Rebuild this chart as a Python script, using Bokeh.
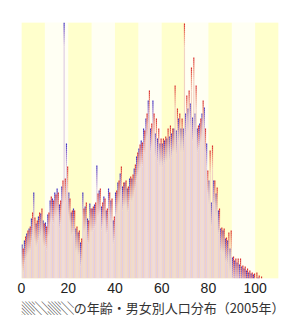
import numpy as np
from bokeh.plotting import figure
from bokeh.models import ColumnDataSource, FixedTicker, Title
from bokeh.embed import file_html
from bokeh.resources import INLINE

# ---- data (age 0..104, bar heights, arbitrary units) ----
ages = list(range(0, 105))
male = [34, 38, 45, 50, 60, 86, 55, 62, 65, 58,
        56, 64, 78, 80, 86, 90, 74, 92, 256, 135,
        86, 66, 70, 50, 46, 36, 86, 72, 60, 75,
        70, 74, 113, 88, 72, 82, 68, 90, 78, 58,
        86, 96, 105, 92, 96, 90, 100, 100, 110, 122,
        130, 138, 150, 160, 178, 150, 178, 145, 140, 135,
        135, 138, 140, 142, 145, 150, 148, 160, 150, 150,
        165, 170, 175, 161, 165, 150, 155, 165, 171, 135,
        98, 76, 98, 85, 68, 50, 48, 40, 38, 30,
        21, 18, 16, 14, 12, 10, 8, 6, 5, 4,
        0, 1, 0, 0, 0]
female = [30, 42, 48, 52, 66, 61, 58, 66, 70, 55,
          52, 66, 82, 78, 84, 86, 78, 98, 100, 112,
          80, 68, 68, 52, 48, 40, 70, 76, 58, 70,
          72, 76, 85, 90, 76, 80, 70, 86, 80, 62,
          88, 98, 112, 96, 98, 92, 102, 104, 114, 126,
          134, 136, 148, 165, 188, 155, 165, 160, 150, 140,
          140, 142, 150, 153, 150, 193, 170, 165, 160, 255,
          183, 188, 211, 221, 193, 153, 160, 178, 150, 108,
          128, 133, 98, 91, 70, 51, 50, 41, 46, 48,
          22, 20, 20, 20, 13, 12, 10, 8, 6, 5,
          6, 3, 2, 0, 0]
band_starts = [0, 20, 40, 60, 80, 100]
tick_values = [0, 20, 40, 60, 80, 100]
# the place name is pixelated in the source; shown as shade blocks
title_text = "▒░▒░の年齢・男女別人口分布（2005年）"

# ---- styling ----
FADE = 24.0
NSEG = 12
male_stops = [(0.0, (0xE0, 0xCD, 0xE2)), (0.55, (0x9C, 0x7C, 0xCE)), (1.0, (0x3A, 0x2A, 0xC0))]
female_stops = [(0.0, (0xF2, 0xD2, 0xC2)), (0.55, (0xEE, 0x8C, 0x74)), (1.0, (0xD8, 0x28, 0x28))]


def interp(stops, t):
    for (t0, c0), (t1, c1) in zip(stops[:-1], stops[1:]):
        if t <= t1:
            u = (t - t0) / (t1 - t0) if t1 > t0 else 0
            return "#%02x%02x%02x" % tuple(int(round(a + (b - a) * u)) for a, b in zip(c0, c1))
    return "#%02x%02x%02x" % stops[-1][1]


def build(values, offset, stops):
    xs, bots, tops, cols = [], [], [], []
    for a, v in zip(ages, values):
        if v <= 0:
            continue
        xc = a + offset
        fade_start = v - FADE
        if fade_start > 0:
            xs.append(xc); bots.append(0); tops.append(fade_start); cols.append(interp(stops, 0.0))
        step = FADE / NSEG
        for k in range(NSEG):
            b = fade_start + k * step
            t = b + step
            if t <= 0:
                continue
            xs.append(xc); bots.append(max(b, 0)); tops.append(t)
            cols.append(interp(stops, (k + 0.5) / NSEG))
    return ColumnDataSource(dict(x=xs, bottom=bots, top=tops, color=cols))


p = figure(width=293, height=329, x_range=(0, 110), y_range=(0, 256),
           output_backend="svg", toolbar_location=None,
           min_border_left=21, min_border_right=15, min_border_top=22, min_border_bottom=51)
p.background_fill_color = "#fffff3"
p.border_fill_color = "white"
p.outline_line_color = None
p.grid.grid_line_color = None
p.yaxis.visible = False

bands = ColumnDataSource(dict(left=band_starts, right=[b + 10 for b in band_starts]))
p.quad(left="left", right="right", bottom=0, top=256, source=bands,
       fill_color="#ffffcc", line_color=None)

src_m = build(male, 0.25, male_stops)
src_f = build(female, 0.75, female_stops)
p.vbar(x="x", width=0.5, bottom="bottom", top="top", fill_color="color",
       line_color=None, source=src_m)
p.vbar(x="x", width=0.5, bottom="bottom", top="top", fill_color="color",
       line_color=None, source=src_f)

ax = p.xaxis[0]
ax.ticker = FixedTicker(ticks=tick_values)
ax.axis_line_color = None
ax.major_tick_line_color = None
ax.minor_tick_line_color = None
ax.major_tick_out = 0
ax.minor_tick_out = 0
ax.major_tick_in = 0
ax.major_label_text_font = "Liberation Sans"
ax.major_label_text_font_size = "14px"
ax.major_label_text_color = "#222222"
ax.major_label_standoff = 4

p.add_layout(Title(text=title_text, align="right", offset=-6, text_font="Noto Sans CJK JP",
                   text_font_size="13px", text_font_style="normal", text_color="#333333",
                   standoff=1), "below")

open("out.html", "w").write(file_html(p, INLINE))
